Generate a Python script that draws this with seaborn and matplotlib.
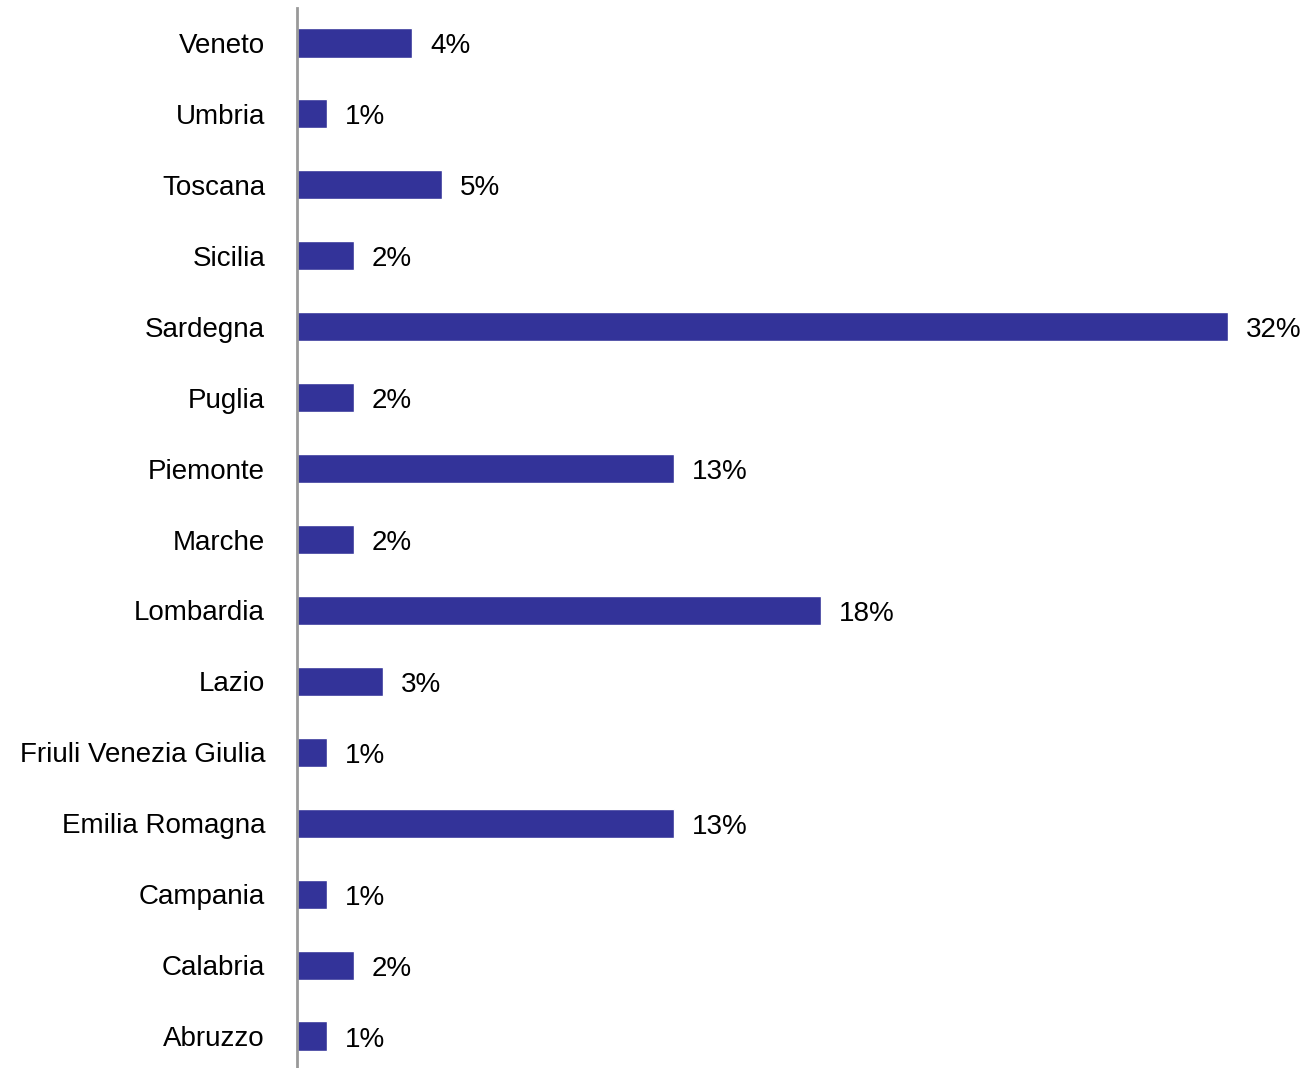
import matplotlib
matplotlib.use("Agg")
import matplotlib.pyplot as plt
import seaborn as sns
import pandas as pd

regions = ["Veneto", "Umbria", "Toscana", "Sicilia", "Sardegna", "Puglia", "Piemonte",
           "Marche", "Lombardia", "Lazio", "Friuli Venezia Giulia", "Emilia Romagna",
           "Campania", "Calabria", "Abruzzo"]
values = [3.95, 1.03, 4.98, 1.96, 32.0, 1.96, 12.96, 1.96, 18.0, 2.96, 1.03, 12.96, 1.03, 1.96, 1.03]
labels = ["4%", "1%", "5%", "2%", "32%", "2%", "13%", "2%", "18%", "3%", "1%", "13%", "1%", "2%", "1%"]

df = pd.DataFrame({"region": regions, "value": values})

sns.set_theme(style="white")
plt.rcParams['font.family'] = ['Liberation Sans', 'DejaVu Sans']

fig = plt.figure(figsize=(13.08, 10.68), dpi=100)
W, H = 1308, 1068
ax = fig.add_axes([297 / W, -3.5 / H, (1228 - 297) / W, 1064 / H])

sns.barplot(data=df, x="value", y="region", orient="h", color="#333399",
            saturation=1, width=0.41, ax=ax)

ax.set_xlim(0, 32.0)
ax.set_ylim(14.5, -0.5)
ax.set_xlabel("")
ax.set_ylabel("")
ax.set_xticks([])
for s in ["top", "right", "bottom"]:
    ax.spines[s].set_visible(False)
ax.spines["left"].set_color("#999999")
ax.spines["left"].set_linewidth(2)
ax.tick_params(axis="y", length=0, pad=23, labelsize=20, labelcolor="black")

for p, lab in zip(ax.patches, labels):
    ax.annotate(lab, (p.get_width(), p.get_y() + p.get_height() / 2),
                xytext=(13, -2.5), textcoords="offset points",
                va="center", ha="left", fontsize=20, color="black", clip_on=False)

fig.savefig("out.png", dpi=100)
